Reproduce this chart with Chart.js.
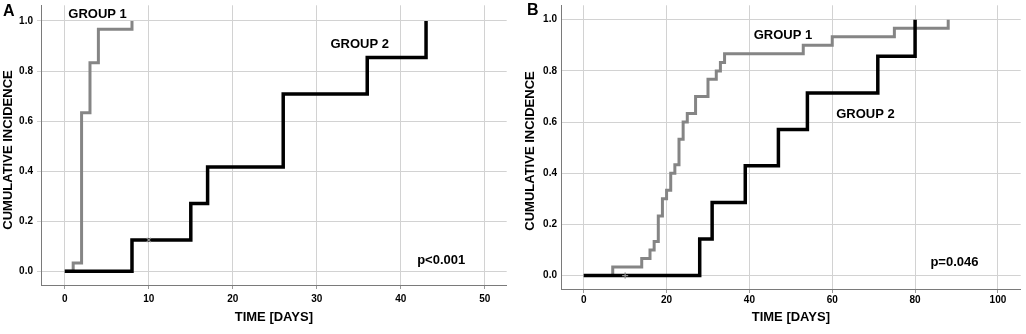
<!DOCTYPE html>
<html>
<head>
<meta charset="utf-8">
<script src="https://cdn.jsdelivr.net/npm/chart.js@4.4.1/dist/chart.umd.min.js"></script>
<style>
    html, body { margin: 0; padding: 0; background: #fff; }
    #wrap { position: relative; width: 1026px; height: 334px; overflow: hidden; font-family: "Liberation Sans", Arial, sans-serif; }
    canvas { position: absolute; top: 0; }
    #chartA { left: 0; }
    #chartB { left: 512px; }
    .tag { position: absolute; font-weight: bold; font-size: 16px; line-height: 1; color: #000; }
</style>
</head>
<body>
<div id="wrap">
    <canvas id="chartA" width="512" height="334"></canvas>
    <canvas id="chartB" width="514" height="334"></canvas>
    <div class="tag" style="left:3px;top:3px">A</div>
    <div class="tag" style="left:527px;top:2px">B</div>
</div>
<script>
// tick labels
const yTicks = [0, 0.2, 0.4, 0.6, 0.8, 1.0];
const xTicksA = [0, 10, 20, 30, 40, 50];
const xTicksB = [0, 20, 40, 60, 80, 100];

// panel A: event times (days) and cumulative incidence after each step
const timeA1 = [0, 1, 2, 3, 4, 8];
const incA1 = [0, 0.033, 0.633, 0.833, 0.967, 1.0];
const timeA2 = [0, 8, 15, 17, 26, 36, 43];
const incA2 = [0, 0.125, 0.271, 0.417, 0.708, 0.854, 1.0];
const censorTimeA = [10];
const censorIncA = [0.125];

// panel B
const timeB1 = [0, 7, 14, 16, 17, 18, 19, 20, 21, 22, 23, 24, 25, 27, 30, 32, 33, 34, 53, 60, 75, 88];
const incB1 = [0, 0.033, 0.067, 0.100, 0.133, 0.233, 0.300, 0.333, 0.400, 0.433, 0.533, 0.600, 0.633, 0.700, 0.767, 0.800, 0.833, 0.867, 0.900, 0.933, 0.967, 1.0];
const timeB2 = [0, 28, 31, 39, 47, 54, 71, 80];
const incB2 = [0, 0.143, 0.286, 0.429, 0.571, 0.714, 0.857, 1.0];
const censorTimeB = [10];
const censorIncB = [0];

const FONT = '"Liberation Sans", Arial, sans-serif';

function points(xs, ys) {
    return xs.map((x, i) => ({ x, y: ys[i] }));
}

// text notes placed in data coordinates (x = day, y = baseline value), plus the y axis title
const textNotes = {
    id: 'textNotes',
    afterDatasetsDraw(chart, args, opts) {
        const ctx = chart.ctx;
        ctx.save();
        ctx.fillStyle = '#000';
        ctx.font = `bold 13px ${FONT}`;
        ctx.textAlign = 'center';
        ctx.textBaseline = 'alphabetic';
        opts.items.forEach(([text, x, y]) => {
            ctx.fillText(text, chart.scales.x.getPixelForValue(x), chart.scales.y.getPixelForValue(y));
        });
        ctx.translate(opts.titleX, opts.titleY);
        ctx.rotate(-Math.PI / 2);
        ctx.textBaseline = 'middle';
        ctx.fillText('CUMULATIVE INCIDENCE', 0, 0);
        ctx.restore();
    },
};

function makeChart(id, cfg) {
    const gray = '#858585';
    return new Chart(document.getElementById(id), {
        type: 'line',
        data: {
            datasets: [
                { data: points(cfg.censorX, cfg.censorY), type: 'scatter', showLine: false, pointStyle: cfg.censorStyle, pointRadius: 3, borderColor: '#8a8a8a', borderWidth: 1.3, order: 0 },
                { data: points(cfg.x2, cfg.y2), stepped: 'before', borderColor: '#000', borderWidth: 3.5, pointRadius: 0, fill: false, order: 1 },
                { data: points(cfg.x1, cfg.y1), stepped: 'before', borderColor: gray, borderWidth: 3, pointRadius: 0, fill: false, order: 2 },
            ],
        },
        options: {
            responsive: false,
            animation: false,
            events: [],
            layout: { padding: { top: 0, left: 0, bottom: 0, right: cfg.rightPad } },
            plugins: {
                legend: { display: false },
                tooltip: { enabled: false },
                textNotes: { items: cfg.notes, titleX: cfg.yTitleX, titleY: cfg.yTitleY },
            },
            scales: {
                x: {
                    type: 'linear',
                    min: cfg.xMin,
                    max: cfg.xMax,
                    afterBuildTicks: (scale) => { scale.ticks = cfg.xTicks.map((v) => ({ value: v })); },
                    afterFit: (scale) => { scale.height = cfg.xHeight; scale.paddingLeft = 0; scale.paddingRight = 0; },
                    border: { color: '#7a7a7a', width: 1 },
                    grid: { color: '#d2d2d2', lineWidth: 1, tickLength: 4, tickColor: '#9a9a9a' },
                    ticks: { color: '#000', padding: cfg.xTickPad, font: { family: FONT, size: 10, weight: 'bold' } },
                    title: { display: true, text: 'TIME [DAYS]', color: '#000', padding: { top: 0, bottom: 9 }, font: { family: FONT, size: 13, weight: 'bold' } },
                },
                y: {
                    type: 'linear',
                    min: cfg.yMin,
                    max: cfg.yMax,
                    afterBuildTicks: (scale) => { scale.ticks = yTicks.map((v) => ({ value: v })); },
                    afterFit: (scale) => { scale.width = cfg.yWidth; scale.paddingTop = 0; scale.paddingBottom = 0; },
                    border: { color: '#7a7a7a', width: 1 },
                    grid: { color: '#d2d2d2', lineWidth: 1, tickLength: cfg.yTickLen, drawTicks: cfg.yTickLen > 0 },
                    ticks: { color: '#000', padding: cfg.yTickPad, font: { family: FONT, size: 10, weight: 'bold' }, callback: (v) => Number(v).toFixed(1) },
                },
            },
        },
        plugins: [textNotes],
    });
}

makeChart('chartA', {
    x1: timeA1, y1: incA1, x2: timeA2, y2: incA2,
    censorX: censorTimeA, censorY: censorIncA, censorStyle: 'crossRot',
    xTicks: xTicksA, xMin: -2.83, xMax: 52.6, yMin: -0.0549, yMax: 1.0627,
    xHeight: 49, yWidth: 41, rightPad: 0, xTickPad: 4, yTickPad: 4, yTickLen: 4,
    yTitleX: 8, yTitleY: 150,
    notes: [['GROUP 1', 3.9, 1.011], ['GROUP 2', 35.1, 0.893], ['p<0.001', 44.8, 0.03]],
});

makeChart('chartB', {
    x1: timeB1, y1: incB1, x2: timeB2, y2: incB2,
    censorX: censorTimeB, censorY: censorIncB, censorStyle: 'cross',
    xTicks: xTicksB, xMin: -5.49, xMax: 105.5, yMin: -0.0526, yMax: 1.0564,
    xHeight: 45, yWidth: 49, rightPad: 0, xTickPad: 1, yTickPad: 4, yTickLen: 0,
    yTitleX: 18, yTitleY: 151,
    notes: [['GROUP 1', 48.1, 0.925], ['GROUP 2', 68.0, 0.615], ['p=0.046', 89.5, 0.038]],
});
</script>
</body>
</html>
